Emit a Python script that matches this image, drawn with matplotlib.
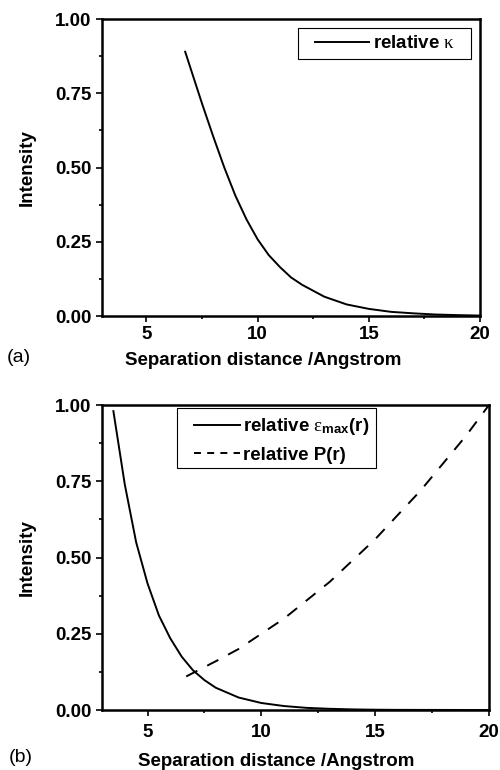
import numpy as np
import matplotlib
matplotlib.use("Agg")
import matplotlib.pyplot as plt
from matplotlib.lines import Line2D
from matplotlib.patches import Rectangle
from matplotlib.ticker import MultipleLocator, FormatStrFormatter

plt.rcParams["font.family"] = ["Liberation Sans", "DejaVu Sans"]
plt.rcParams["font.weight"] = "bold"
plt.rcParams["mathtext.fontset"] = "custom"
plt.rcParams["mathtext.rm"] = "Liberation Serif:weight=normal"
plt.rcParams["mathtext.it"] = "Liberation Serif:italic:weight=normal"
plt.rcParams["mathtext.bf"] = "Liberation Sans:bold"
plt.rcParams["mathtext.sf"] = "Liberation Sans:bold"
plt.rcParams["lines.scale_dashes"] = False

# ─── data ────────────────────────────────────────────────────
# (a) relative kappa
r_kappa = [6.74, 7.5, 8.0, 8.5, 9.0, 9.5, 10.0, 10.5, 11.0, 11.5, 12.0,
           12.5, 13.0, 14.0, 15.0, 16.0, 17.0, 18.0, 19.0, 20.0]
kappa   = [0.89, 0.715, 0.605, 0.50, 0.405, 0.325, 0.258, 0.205, 0.165,
           0.13, 0.105, 0.085, 0.065, 0.039, 0.024, 0.014, 0.009, 0.005,
           0.003, 0.0015]

# (b) relative eps_max(r) and P(r)
r_eps = [3.5, 4.0, 4.5, 5.0, 5.5, 6.0, 6.5, 7.0, 7.5, 8.0, 9.0, 10.0,
         11.0, 12.0, 13.0, 14.0, 15.0, 16.0, 20.0]
eps   = [0.98, 0.74, 0.55, 0.415, 0.31, 0.235, 0.175, 0.13, 0.098, 0.073,
         0.041, 0.023, 0.013, 0.007, 0.004, 0.002, 0.001, 0.0005, 0.0]

r_P = [6.7, 8.0, 9.0, 10.0, 11.0, 12.0, 13.0, 14.0, 15.0, 16.0, 17.0,
       18.0, 19.0, 20.0]
P   = [0.11, 0.16, 0.20, 0.25, 0.30, 0.36, 0.42, 0.49, 0.56, 0.64, 0.72,
       0.81, 0.90, 1.0]

XLABEL = "Separation distance /Angstrom"
YLABEL = "Intensity"

W, H = 500, 770
fig = plt.figure(figsize=(W / 100, H / 100), dpi=100)
ax1 = fig.add_axes([0.204, 0.5896, 0.756, 0.3857])
ax2 = fig.add_axes([0.204, 0.0779, 0.774, 0.3961])

LW = 1.4
FS = 13.5

def style_axis(ax, xpad):
    ax.set_xlim(3, 20)
    ax.set_ylim(0, 1.0)
    ax.xaxis.set_major_locator(MultipleLocator(5))
    ax.xaxis.set_minor_locator(MultipleLocator(2.5))
    ax.yaxis.set_major_locator(MultipleLocator(0.25))
    ax.yaxis.set_minor_locator(MultipleLocator(0.125))
    ax.yaxis.set_major_formatter(FormatStrFormatter("%.2f"))
    for s in ax.spines.values():
        s.set_linewidth(1.8)
    ax.tick_params(which="major", direction="out", length=4, width=1.2,
                   labelsize=FS, top=False, right=False)
    ax.tick_params(axis="x", which="major", pad=xpad)
    ax.tick_params(which="minor", direction="out", length=2.2, width=1.2,
                   top=False, right=False)

def legend_box(x0, y0, x1, y1):
    # frame in pixel coords of the reference (top-left origin)
    fig.add_artist(Rectangle((x0 / W, 1 - y1 / H), (x1 - x0) / W, (y1 - y0) / H,
                             transform=fig.transFigure, fill=True,
                             facecolor="white", edgecolor="black", lw=0.8,
                             zorder=5))

# ── (a) ──────────────────────────────────────────────────────
ax1.plot(r_kappa, kappa, color="black", lw=LW)
style_axis(ax1, 3)
ax1.set_xlabel(XLABEL, fontsize=FS, fontweight="bold")
ax1.set_ylabel(YLABEL, fontsize=FS, fontweight="bold")
ax1.xaxis.set_label_coords(0.426, -0.12)
ax1.yaxis.set_label_coords(-0.175, 0.5)
legend_box(298, 28, 471, 59)
h_k = [Line2D([], [], color="black", lw=LW)]
leg1 = fig.legend(h_k, [r"relative $\mathrm{\kappa}$"], loc="center left",
                  bbox_to_anchor=(315 / W, 1 - 43.5 / H),
                  borderaxespad=0, borderpad=0, frameon=False,
                  handlelength=2.9, handletextpad=0.2,
                  prop={"size": FS, "weight": "bold"})
leg1.set_zorder(6)

# ── (b) ──────────────────────────────────────────────────────
ax2.plot(r_eps, eps, color="black", lw=LW)
ax2.plot(r_P, P, color="black", lw=LW, dashes=(9, 8))
style_axis(ax2, 6)
ax2.set_xlabel(XLABEL, fontsize=FS, fontweight="bold")
ax2.set_ylabel(YLABEL, fontsize=FS, fontweight="bold")
ax2.xaxis.set_label_coords(0.45, -0.14)
ax2.yaxis.set_label_coords(-0.17, 0.5)
legend_box(177, 408, 376, 468)
h_b = [Line2D([], [], color="black", lw=LW),
       Line2D([], [], color="black", lw=LW, dashes=(5, 4.5))]
leg2 = fig.legend(h_b, [r"relative $\mathrm{\varepsilon}_{\mathsf{max}}$(r)",
                        "relative P(r)"],
                  loc="center left", bbox_to_anchor=(194 / W, 1 - 440 / H),
                  borderaxespad=0, borderpad=0, frameon=False,
                  handlelength=2.45, handletextpad=0.15, labelspacing=0.5,
                  prop={"size": FS, "weight": "bold"})
leg2.set_zorder(6)

fig.text(0.014, 1 - 357 / H, "(a)", fontsize=14, fontweight="normal",
         va="center", ha="left")
fig.text(0.018, 1 - 758 / H, "(b)", fontsize=14, fontweight="normal",
         va="center", ha="left")

fig.savefig("out.png", dpi=100)
